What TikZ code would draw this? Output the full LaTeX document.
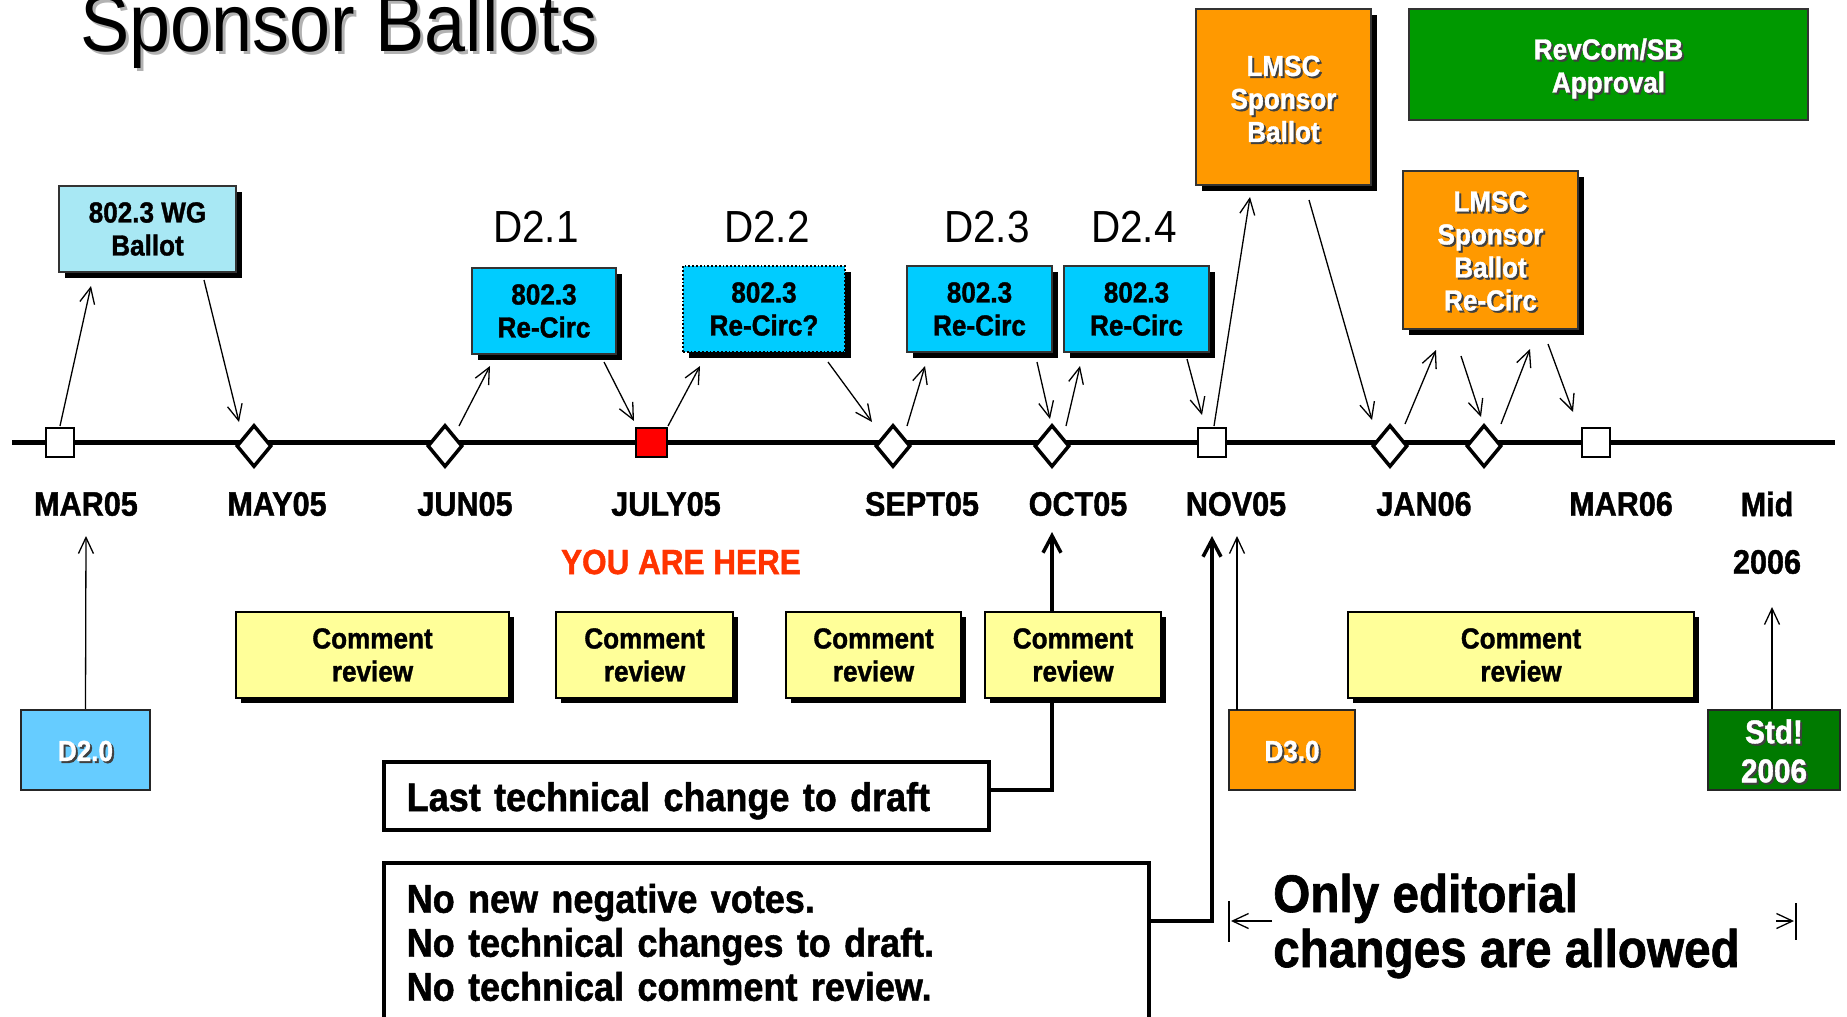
\documentclass[tikz,border=0pt]{standalone}
\usepackage{fontspec}
\setmainfont{Liberation Sans}[FakeStretch=0.9,BoldFeatures={FakeBold=1.2}]
\usetikzlibrary{arrows.meta,shapes.geometric,shadows}
\definecolor{wgcyan}{HTML}{A8E8F4}
\definecolor{rccyan}{HTML}{00CCFF}
\definecolor{lmscorange}{HTML}{FF9900}
\definecolor{revgreen}{HTML}{009900}
\definecolor{stdgreen}{HTML}{007A00}
\definecolor{dtwoblue}{HTML}{66CCFF}
\definecolor{cryellow}{HTML}{FFFF99}
\definecolor{hereorange}{HTML}{FF3300}
\definecolor{boxedge}{HTML}{333333}
\newcommand{\fsz}[2]{\fontsize{#1}{#2}\selectfont}
\begin{document}
\begin{tikzpicture}[x=1pt,y=-1pt,
  bx/.style={font=\bfseries\fsz{29}{33},align=center,inner sep=0pt},
  shd/.style={drop shadow={shadow xshift=#1pt,shadow yshift=-#1pt,fill=black,opacity=1}},
  shd/.default=6,
  wgbox/.style={bx,fill=wgcyan,draw=boxedge,line width=1.5pt,shd},
  rcbox/.style={bx,fill=rccyan,draw=boxedge,line width=1.5pt,shd,minimum height=86pt},
  lmbox/.style={bx,fill=lmscorange,draw=boxedge,line width=1.5pt,shd},
  revbox/.style={bx,fill=revgreen,draw=boxedge,line width=2pt},
  dbox/.style={bx,draw=black!85,line width=2.5pt,minimum height=80pt},
  crbox/.style={bx,fill=cryellow,draw=black,line width=1.5pt,shd=5,minimum height=86pt},
  wtxt/.style={bx,text=white},
  stxt/.style={bx,text=black!75},
  lbl/.style={font=\bfseries\fsz{34}{38},inner sep=0pt},
  dlbl/.style={font=\fsz{45}{50},inner sep=0pt},
  sq/.style={draw=black,fill=white,line width=2pt,minimum width=28pt,minimum height=29pt,inner sep=0pt},
  dia/.style={shape=diamond,draw=black,fill=white,line width=3.5pt,minimum width=35pt,minimum height=42pt,inner sep=0pt},
  tarr/.style={line width=1.3pt,-{Straight Barb[length=16pt,width=15pt]}},
  karr/.style={line width=3.5pt,-{Straight Barb[length=17pt,width=18pt]}},
  tbox/.style={draw=black,fill=white,line width=3.5pt,font=\bfseries\fsz{40}{44},align=left,inner xsep=23pt}
]
\useasboundingbox (0,0) rectangle (1847,1017);
\fill[white] (0,0) rectangle (1847,1017);

% title
\node[font=\fsz{82}{90},text=black!30,anchor=base west,inner sep=0pt] (titlesh) at (83,54) {Sponsor Ballots};
\node[font=\fsz{82}{90},anchor=base west,inner sep=0pt] (title) at (80,51) {Sponsor Ballots};

% timeline
\coordinate (tl0) at (12,442);
\coordinate (tl1) at (1835,442);
\draw[line width=5pt] (tl0) -- (tl1);

% diagonal connectors
\foreach \sx/\sy/\ex/\ey [count=\i] in {
  60/426/91/286, 204/280/239/422, 459/426/490/366, 604/362/634/421,
  668/426/700/366, 828/362/872/422, 907/426/925/366, 1037/362/1050/419,
  1066/426/1080/366, 1187/359/1202/415, 1214/426/1250/197, 1309/200/1372/420,
  1405/424/1436/350, 1461/356/1481/417, 1501/424/1530/349, 1548/344/1573/412}{
  \coordinate (s\i) at (\sx,\sy);
  \coordinate (e\i) at (\ex,\ey);
  \draw[tarr] (s\i) -- (e\i);
}

% boxes below: positions
\node[dbox,fill=dtwoblue,minimum width=129pt] (d20) at (85.5,750) {};
\node[dbox,fill=lmscorange,minimum width=126pt] (d30) at (1292,750) {};
\node[dbox,fill=stdgreen,minimum width=132pt] (std) at (1774,750) {};

% vertical connectors
\coordinate (d20e) at (86,536);
\coordinate (d30s) at (1237,710);
\coordinate (d30e) at (1237,536);
\coordinate (stde) at (1772,607);
\draw[tarr] (d20.north) -- (d20e);
\draw[tarr] (d30s) -- (d30e);
\draw[tarr] ([xshift=-2pt]std.north) -- (stde);

% text boxes
\node[tbox,anchor=west,minimum width=605pt,minimum height=68pt,text width=559pt,text height=35pt,text depth=5pt] (last) at (382,796) {Last technical change to draft};
\node[tbox,anchor=north west,text width=719pt,inner ysep=21pt,text depth=190pt] (nonew) at (382,861)
  {No new negative votes.\\No technical changes to draft.\\No technical comment review.};

\coordinate (k1a) at (1052,790);
\coordinate (k1e) at (1052,532);
\coordinate (k2a) at (1212,921);
\coordinate (k2e) at (1212,536);
\draw[karr] (last.east |- k1a) -- (k1a) -- (k1e);
\draw[karr] (nonew.east |- k2a) -- (k2a) -- (k2e);

% markers
\node[sq] (m1) at (60,442) {};
\node[dia] (m2) at (254,446) {};
\node[dia] (m3) at (445,446) {};
\node[sq,fill=red,minimum width=31pt] (m4) at (651,442) {};
\node[dia] (m5) at (893,446) {};
\node[dia] (m6) at (1052,446) {};
\node[sq] (m7) at (1212,442) {};
\node[dia] (m8) at (1390,446) {};
\node[dia] (m9) at (1484,446) {};
\node[sq] (m10) at (1596,442) {};

% upper boxes
\node[wgbox,minimum width=177pt,minimum height=86pt] (wg) at (147.5,229) {802.3 WG\\Ballot};
\node[rcbox,minimum width=144pt] (rc1) at (544,311) {802.3\\Re-Circ};
\node[bx,fill=rccyan,draw=black,dotted,line width=1.8pt,shd,minimum width=162pt,minimum height=86pt] (rc2) at (764,309) {802.3\\Re-Circ?};
\node[rcbox,minimum width=145pt] (rc3) at (979.5,309) {802.3\\Re-Circ};
\node[rcbox,minimum width=145pt] (rc4) at (1136.5,309) {802.3\\Re-Circ};
\node[lmbox,minimum width=175pt,minimum height=176pt] (lm1) at (1283.5,97) {};
\node[lmbox,minimum width=175pt,minimum height=158pt] (lm2) at (1490.5,250) {};
\node[revbox,minimum width=399pt,minimum height=111pt] (rev) at (1608.5,64.5) {};

% white texts with shadows
\node[stxt] (lm1s) at (1285.5,101) {LMSC\\Sponsor\\Ballot};
\node[wtxt] (lm1t) at (1283.5,99) {LMSC\\Sponsor\\Ballot};
\node[stxt] (lm2s) at (1492.5,253) {LMSC\\Sponsor\\Ballot\\Re-Circ};
\node[wtxt] (lm2t) at (1490.5,251) {LMSC\\Sponsor\\Ballot\\Re-Circ};
\node[stxt] (revs) at (1610.5,70.5) {RevCom/SB\\Approval};
\node[wtxt] (revt) at (1608.5,68.5) {RevCom/SB\\Approval};
\node[stxt] (d20s) at (87.5,753) {D2.0};
\node[wtxt] (d20t) at (85.5,751) {D2.0};
\node[stxt] (d30s2) at (1294,753) {D3.0};
\node[wtxt] (d30t) at (1292,751) {D3.0};
\node[stxt,font=\bfseries\fsz{33}{39}] (stds) at (1776,753) {Std!\\2006};
\node[wtxt,font=\bfseries\fsz{33}{39}] (stdt) at (1774,751) {Std!\\2006};

% comment review boxes
\node[crbox,minimum width=273pt] (cr1) at (372.5,655) {Comment\\review};
\node[crbox,minimum width=177pt] (cr2) at (644.5,655) {Comment\\review};
\node[crbox,minimum width=175pt] (cr3) at (873.5,655) {Comment\\review};
\node[crbox,minimum width=176pt] (cr4) at (1073,655) {Comment\\review};
\node[crbox,minimum width=346pt] (cr5) at (1521,655) {Comment\\review};

% draft labels
\node[dlbl] (dl1) at (536,227) {D2.1};
\node[dlbl] (dl2) at (767,227) {D2.2};
\node[dlbl] (dl3) at (987,227) {D2.3};
\node[dlbl] (dl4) at (1134,227) {D2.4};

% month labels
\node[lbl] (l1) at (86,504) {MAR05};
\node[lbl] (l2) at (277,504) {MAY05};
\node[lbl] (l3) at (465,504) {JUN05};
\node[lbl] (l4) at (666,504) {JULY05};
\node[lbl] (l5) at (922,504) {SEPT05};
\node[lbl] (l6) at (1078,504) {OCT05};
\node[lbl] (l7) at (1236,504) {NOV05};
\node[lbl] (l8) at (1424,504) {JAN06};
\node[lbl] (l9) at (1621,504) {MAR06};
\node[lbl] (l10) at (1767,504) {Mid};
\node[lbl] (l11) at (1767,562) {2006};
\node[font=\bfseries\fsz{35}{38},text=hereorange,inner sep=0pt] (here) at (681,562) {YOU ARE HERE};

% editorial note
\node[font=\bfseries\fsz{53}{55},align=left,anchor=west,inner sep=0pt] (edit) at (1273,926) {Only editorial\\changes are allowed};
\coordinate (bl0) at (1229,901);
\coordinate (bl1) at (1229,942);
\coordinate (al0) at (1272,921);
\coordinate (al1) at (1231,921);
\coordinate (br0) at (1796,903);
\coordinate (br1) at (1796,940);
\coordinate (ar0) at (1776,921);
\coordinate (ar1) at (1794,921);
\draw[line width=1.3pt] (bl0) -- (bl1);
\draw[line width=1.3pt] (br0) -- (br1);
\draw[tarr] (al0) -- (al1);
\draw[tarr] (ar0) -- (ar1);
\end{tikzpicture}
\end{document}
